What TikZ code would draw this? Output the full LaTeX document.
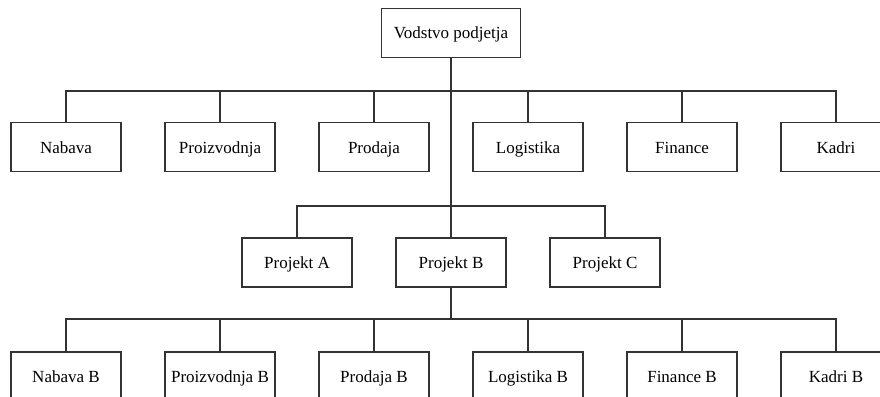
\documentclass[tikz,border=0pt]{standalone}
\usepackage{fontspec}
\setmainfont{Liberation Serif}
\usetikzlibrary{positioning}
\tikzset{
  unit/.style={draw=black!80, rectangle, line width=1.3pt, minimum width=110pt, minimum height=49pt, inner sep=0pt, outer sep=0pt, text height=14pt, text depth=2pt, font=\fontsize{17}{20}\selectfont}, % Define the unit style
  head/.style={unit, minimum width=139pt}, % Define the head style
  link/.style={draw=black!80, line width=1.3pt}
}
\begin{document}
\begin{tikzpicture}[x=1pt,y=-1pt]
        \useasboundingbox (0,0) rectangle (880,396);

        % Head
        \node[head] (vodstvo) at (451,33) {Vodstvo podjetja};

        % Functions
        \node[unit] (nabava) at (66,147) {Nabava};
        \node[unit] (proizvodnja) [right=44pt of nabava] {Proizvodnja};
        \node[unit] (prodaja) [right=44pt of proizvodnja] {Prodaja};
        \node[unit] (logistika) [right=44pt of prodaja] {Logistika};
        \node[unit] (finance) [right=44pt of logistika] {Finance};
        \node[unit] (kadri) [right=44pt of finance] {Kadri};

        % Projects
        \node[unit] (projB) at (451,262.5) {Projekt B};
        \node[unit] (projA) [left=44pt of projB] {Projekt A};
        \node[unit] (projC) [right=44pt of projB] {Projekt C};

        % Project B functions
        \node[unit] (nabavaB) at (66,376.5) {Nabava B};
        \node[unit] (proizvodnjaB) [right=44pt of nabavaB] {Proizvodnja B};
        \node[unit] (prodajaB) [right=44pt of proizvodnjaB] {Prodaja B};
        \node[unit] (logistikaB) [right=44pt of prodajaB] {Logistika B};
        \node[unit] (financeB) [right=44pt of logistikaB] {Finance B};
        \node[unit] (kadriB) [right=44pt of financeB] {Kadri B};

        % Bus points
        \coordinate (bus1) at (451,91);
        \coordinate (bus2) at (451,206);
        \coordinate (bus3) at (451,319);

        % Head to projects
        \draw[link] (vodstvo.south) -- (projB.north);

        % Head to functions
        \draw[link] (nabava.north) |- (bus1) -| (kadri.north);
        \foreach \n in {proizvodnja, prodaja, logistika, finance}
          \draw[link] (\n.north) -- (\n.north |- bus1);

        % Projects
        \draw[link] (projA.north) |- (bus2) -| (projC.north);

        % Project B to its functions
        \draw[link] (projB.south) -- (bus3);
        \draw[link] (nabavaB.north) |- (bus3) -| (kadriB.north);
        \foreach \n in {proizvodnjaB, prodajaB, logistikaB, financeB}
          \draw[link] (\n.north) -- (\n.north |- bus3);
    \end{tikzpicture}
\end{document}
